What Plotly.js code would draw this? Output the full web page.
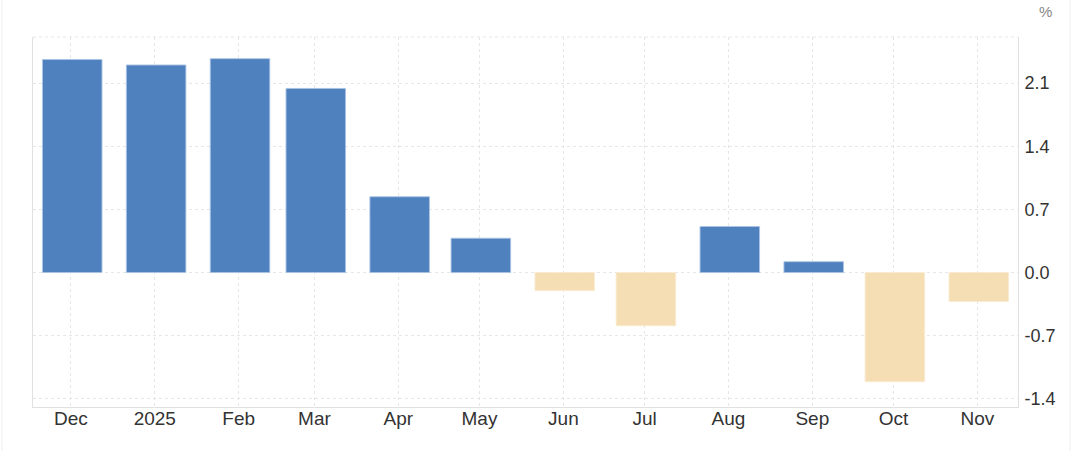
<!DOCTYPE html>
<html>
<head>
<meta charset="utf-8">
<script src="https://cdn.plot.ly/plotly-3.0.1.min.js"></script>
<style>
html,body{margin:0;padding:0;background:#fff;}
#chart{width:1078px;height:451px;}
</style>
</head>
<body>
<div id="chart"></div>
<script>
// Data
const months = ['2024-12-01','2025-01-01','2025-02-01','2025-03-01','2025-04-01','2025-05-01','2025-06-01','2025-07-01','2025-08-01','2025-09-01','2025-10-01','2025-11-01'];
const tickLabels = ['Dec','2025','Feb','Mar','Apr','May','Jun','Jul','Aug','Sep','Oct','Nov'];
const values = [2.36, 2.30, 2.37, 2.04, 0.84, 0.38, -0.20, -0.59, 0.51, 0.12, -1.21, -0.32];
const yTicks = [-1.4, -0.7, 0.0, 0.7, 1.4, 2.1];

const BLUE = '#4e81bd', BEIGE = '#f5deb3';
const colors = values.map(v => v >= 0 ? BLUE : BEIGE);
const lineColors = values.map(v => v >= 0 ? 'rgba(170,195,230,0.9)' : 'rgba(250,235,210,0.9)');
const dayMs = 86400000;

const trace = {
  type: 'bar',
  x: months,
  y: values,
  width: months.map(() => 22 * dayMs),
  offset: months.map(() => -10.5 * dayMs),
  marker: {color: colors, line: {color: lineColors, width: 1}},
  hoverinfo: 'x+y'
};

const gridCol = '#e6e6e6';
const layout = {
  width: 1078, height: 451,
  margin: {l: 33, r: 60, t: 37, b: 44},
  paper_bgcolor: '#fff', plot_bgcolor: '#fff',
  showlegend: false,
  font: {family: 'Liberation Sans, Arial, sans-serif', size: 17, color: '#333'},
  xaxis: {
    type: 'date',
    range: ['2024-11-17', '2025-11-16'],
    tickvals: months, ticktext: tickLabels,
    showgrid: true, gridcolor: gridCol, griddash: 'dot', gridwidth: 1,
    showline: true, linecolor: '#e0e0e0', linewidth: 1,
    ticks: '', zeroline: false, fixedrange: true,
    ticklabelstandoff: -6,
    tickfont: {size: 19, color: '#333'}
  },
  yaxis: {
    side: 'right',
    range: [-1.49, 2.61],
    tickvals: yTicks, ticktext: yTicks.map(v => v.toFixed(1)),
    showgrid: true, gridcolor: gridCol, griddash: 'dot', gridwidth: 1,
    showline: true, mirror: true, linecolor: '#e0e0e0', linewidth: 1,
    ticks: '', zeroline: false, fixedrange: true,
    ticklabelstandoff: 2,
    tickfont: {size: 18, color: '#333'}
  },
  shapes: [
    {type: 'line', xref: 'paper', yref: 'paper', x0: 0, x1: 1, y0: 1, y1: 1,
     line: {color: gridCol, width: 1, dash: 'dot'}},
    {type: 'line', xref: 'paper', yref: 'paper', x0: -0.0315, x1: -0.0315, y0: -0.12, y1: 1.1,
     line: {color: '#eeeeee', width: 1}},
    {type: 'line', xref: 'paper', yref: 'paper', x0: 1.0528, x1: 1.0528, y0: -0.12, y1: 1.1,
     line: {color: '#eeeeee', width: 1}}
  ],
  annotations: [
    {text: '%', xref: 'paper', yref: 'paper', x: 1.0195, y: 1.068, xanchor: 'left', yanchor: 'middle',
     showarrow: false, font: {size: 15, color: '#888'}}
  ],
  bargap: 0.3
};

Plotly.newPlot('chart', [trace], layout, {displayModeBar: false, staticPlot: true});
</script>
</body>
</html>
